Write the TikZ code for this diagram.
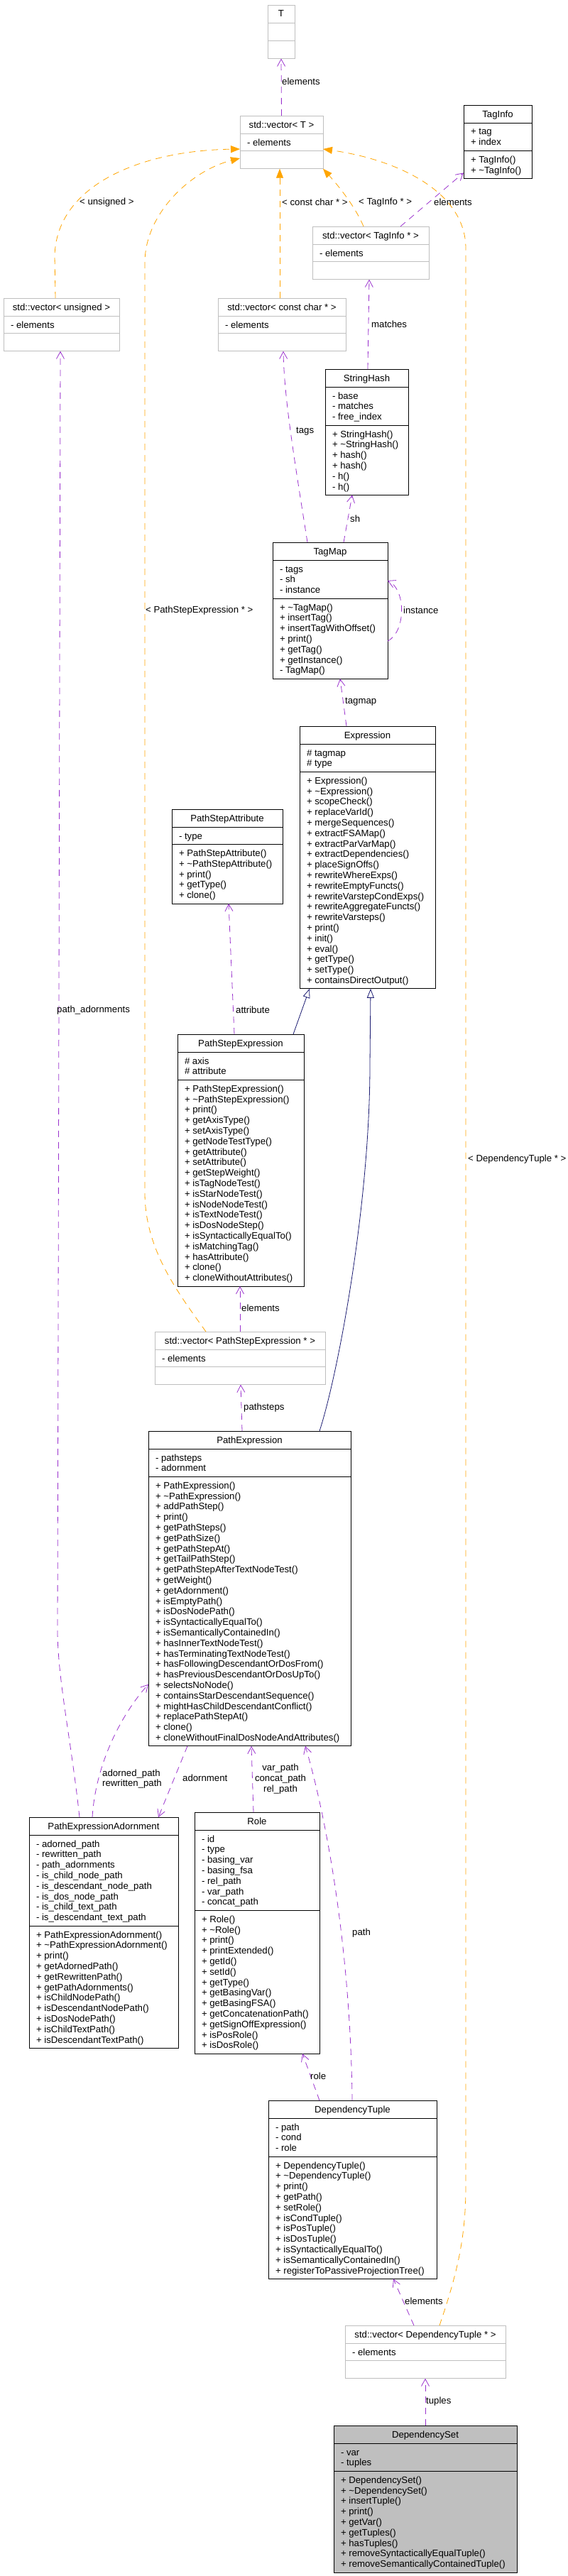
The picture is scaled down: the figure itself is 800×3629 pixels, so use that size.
\documentclass[tikz,border=0pt]{standalone}
\usepackage{fontspec}
\setmainfont{Liberation Sans}
\usetikzlibrary{arrows.meta}
\definecolor{usecol}{HTML}{9A32CD}
\definecolor{tplcol}{HTML}{FFA500}
\definecolor{inhcol}{HTML}{191970}
\definecolor{boxgray}{HTML}{BFBFBF}
\newcommand{\tld}{\textasciitilde}
\tikzset{
  blackbox/.style={draw=black, line width=0.9pt},
  graybox/.style={draw=boxgray, line width=0.9pt},
  filledbox/.style={draw=black, fill=boxgray, line width=0.9pt},
  curbox/.style={blackbox},
  clstext/.style={font=\fontsize{13.2}{14.8}\selectfont, inner sep=0pt, outer sep=0pt},
  lbl/.style={font=\fontsize{13.2}{14.8}\selectfont, inner sep=1pt, anchor=west},
  usedge/.style={draw=usecol, line width=0.8pt, dash pattern=on 9pt off 7pt, -{Straight Barb[length=10pt,width=11pt]}},
  tpledge/.style={draw=tplcol, line width=0.8pt, dash pattern=on 9pt off 7pt, -{Triangle[length=13pt,width=10pt]}},
  inhedge/.style={draw=inhcol, line width=0.8pt, -{Triangle[open,length=13pt,width=10pt,fill=white]}}
}
% #1 name #2 x #3 y #4 width #5 attr lines #6 method lines #7 title #8 attrs #9 methods
\newcommand{\umlclass}[9]{%
  \pgfmathsetmacro{\clsHa}{#5==0 ? 25.3 : #5*14.8+9.6}%
  \pgfmathsetmacro{\clsHm}{#6==0 ? 25.3 : #6*14.8+9.6}%
  \pgfmathsetmacro{\clsHt}{25+\clsHa+\clsHm}%
  \node[curbox, inner sep=0pt, outer sep=0pt, anchor=north west, minimum width=#4pt, minimum height=\clsHt pt] (#1) at (#2,#3) {};
  \draw[curbox, fill=none] ({#2},{#3+25}) -- ++(#4,0);
  \draw[curbox, fill=none] ({#2},{#3+25+\clsHa}) -- ++(#4,0);
  \node[clstext, anchor=base] (#1-title) at ({#2+#4/2},{#3+17}) {#7};
  \node[clstext, align=left, anchor=north west] (#1-attrs) at ({#2+10},{#3+25+7}) {\rule{0pt}{10pt}#8};
  \node[clstext, align=left, anchor=north west] (#1-meths) at ({#2+10},{#3+25+\clsHa+7}) {\rule{0pt}{10pt}#9};
}
\begin{document}
\begin{tikzpicture}[x=1pt,y=-1pt]
\useasboundingbox (0,0) rectangle (800,3629);

\tikzset{curbox/.style={graybox}}
\umlclass{T}{377}{7}{38}{0}{0}{T}{}{}
\umlclass{vecT}{338}{163}{117}{1}{0}{std::vector< T >}{- elements}{}
\umlclass{vecTagInfo}{440}{319}{164}{1}{0}{std::vector< TagInfo * >}{- elements}{}
\umlclass{vecUnsigned}{5}{420}{163}{1}{0}{std::vector< unsigned >}{- elements}{}
\umlclass{vecConstChar}{307}{420}{180}{1}{0}{std::vector< const char * >}{- elements}{}
\umlclass{vecPSE}{218}{1876}{240}{1}{0}{std::vector< PathStepExpression * >}{- elements}{}
\umlclass{vecDT}{486}{3276}{226}{1}{0}{std::vector< DependencyTuple * >}{- elements}{}

\tikzset{curbox/.style={blackbox}}
\umlclass{TagInfo}{653}{148}{96}{2}{2}{TagInfo}{+ tag\\+ index}{+ TagInfo()\\+ \tld TagInfo()}
\umlclass{StringHash}{458}{520}{117}{3}{6}{StringHash}{- base\\- matches\\- free\_index}{+ StringHash()\\+ \tld StringHash()\\+ hash()\\+ hash()\\- h()\\- h()}
\umlclass{TagMap}{384}{764}{162}{3}{7}{TagMap}{- tags\\- sh\\- instance}{+ \tld TagMap()\\+ insertTag()\\+ insertTagWithOffset()\\+ print()\\+ getTag()\\+ getInstance()\\- TagMap()}
\umlclass{Expression}{422}{1023}{191}{2}{20}{Expression}{\# tagmap\\\# type}{+ Expression()\\+ \tld Expression()\\+ scopeCheck()\\+ replaceVarId()\\+ mergeSequences()\\+ extractFSAMap()\\+ extractParVarMap()\\+ extractDependencies()\\+ placeSignOffs()\\+ rewriteWhereExps()\\+ rewriteEmptyFuncts()\\+ rewriteVarstepCondExps()\\+ rewriteAggregateFuncts()\\+ rewriteVarsteps()\\+ print()\\+ init()\\+ eval()\\+ getType()\\+ setType()\\+ containsDirectOutput()}
\umlclass{PSA}{242}{1140}{156}{1}{5}{PathStepAttribute}{- type}{+ PathStepAttribute()\\+ \tld PathStepAttribute()\\+ print()\\+ getType()\\+ clone()}
\umlclass{PSE}{250}{1457}{178}{2}{19}{PathStepExpression}{\# axis\\\# attribute}{+ PathStepExpression()\\+ \tld PathStepExpression()\\+ print()\\+ getAxisType()\\+ setAxisType()\\+ getNodeTestType()\\+ getAttribute()\\+ setAttribute()\\+ getStepWeight()\\+ isTagNodeTest()\\+ isStarNodeTest()\\+ isNodeNodeTest()\\+ isTextNodeTest()\\+ isDosNodeStep()\\+ isSyntacticallyEqualTo()\\+ isMatchingTag()\\+ hasAttribute()\\+ clone()\\+ cloneWithoutAttributes()}
\umlclass{PathExpression}{209}{2016}{285}{2}{25}{PathExpression}{- pathsteps\\- adornment}{+ PathExpression()\\+ \tld PathExpression()\\+ addPathStep()\\+ print()\\+ getPathSteps()\\+ getPathSize()\\+ getPathStepAt()\\+ getTailPathStep()\\+ getPathStepAfterTextNodeTest()\\+ getWeight()\\+ getAdornment()\\+ isEmptyPath()\\+ isDosNodePath()\\+ isSyntacticallyEqualTo()\\+ isSemanticallyContainedIn()\\+ hasInnerTextNodeTest()\\+ hasTerminatingTextNodeTest()\\+ hasFollowingDescendantOrDosFrom()\\+ hasPreviousDescendantOrDosUpTo()\\+ selectsNoNode()\\+ containsStarDescendantSequence()\\+ mightHasChildDescendantConflict()\\+ replacePathStepAt()\\+ clone()\\+ cloneWithoutFinalDosNodeAndAttributes()}
\umlclass{PEA}{41}{2560}{210}{8}{11}{PathExpressionAdornment}{- adorned\_path\\- rewritten\_path\\- path\_adornments\\- is\_child\_node\_path\\- is\_descendant\_node\_path\\- is\_dos\_node\_path\\- is\_child\_text\_path\\- is\_descendant\_text\_path}{+ PathExpressionAdornment()\\+ \tld PathExpressionAdornment()\\+ print()\\+ getAdornedPath()\\+ getRewrittenPath()\\+ getPathAdornments()\\+ isChildNodePath()\\+ isDescendantNodePath()\\+ isDosNodePath()\\+ isChildTextPath()\\+ isDescendantTextPath()}
\umlclass{Role}{274}{2553}{176}{7}{13}{Role}{- id\\- type\\- basing\_var\\- basing\_fsa\\- rel\_path\\- var\_path\\- concat\_path}{+ Role()\\+ \tld Role()\\+ print()\\+ printExtended()\\+ getId()\\+ setId()\\+ getType()\\+ getBasingVar()\\+ getBasingFSA()\\+ getConcatenationPath()\\+ getSignOffExpression()\\+ isPosRole()\\+ isDosRole()}
\umlclass{DT}{378}{2959}{237}{3}{11}{DependencyTuple}{- path\\- cond\\- role}{+ DependencyTuple()\\+ \tld DependencyTuple()\\+ print()\\+ getPath()\\+ setRole()\\+ isCondTuple()\\+ isPosTuple()\\+ isDosTuple()\\+ isSyntacticallyEqualTo()\\+ isSemanticallyContainedIn()\\+ registerToPassiveProjectionTree()}
\tikzset{curbox/.style={filledbox}}
\umlclass{DS}{470}{3417}{258}{2}{9}{DependencySet}{- var\\- tuples}{+ DependencySet()\\+ \tld DependencySet()\\+ insertTuple()\\+ print()\\+ getVar()\\+ getTuples()\\+ hasTuples()\\+ removeSyntacticallyEqualTuple()\\+ removeSemanticallyContainedTuple()}

% usage relations (purple)
\draw[usedge] (vecT.north) -- (T.south);
\node[lbl] (l-el1) at (396,115) {elements};
\draw[usedge] ([xshift=124pt]vecTagInfo.north west) -- ([yshift=8pt]TagInfo.south west);
\node[lbl] (l-el2) at (610,285) {elements};
\draw[usedge] ([xshift=60pt]StringHash.north west) -- ([xshift=80pt]vecTagInfo.south west);
\node[lbl] (l-matches) at (522,457) {matches};
\draw[usedge] ([xshift=49pt]TagMap.north west) .. controls (415,650) and (400,560) .. ([xshift=92pt]vecConstChar.south west);
\node[lbl] (l-tags) at (416,608) {tags};
\draw[usedge] ([xshift=100pt]TagMap.north west) -- ([xshift=38pt]StringHash.south west);
\node[lbl] (l-sh) at (492,731) {sh};
\draw[usedge] ([yshift=53pt]TagMap.south east) .. controls (572,890) and (572,830) .. ([yshift=-54pt]TagMap.north east);
\node[lbl] (l-inst) at (567,860) {instance};
\draw[usedge] ([xshift=66pt]Expression.north west) -- ([xshift=95pt]TagMap.south west);
\node[lbl] (l-tagmap) at (485,989) {tagmap};
\draw[usedge] ([xshift=80pt]PSE.north west) -- ([xshift=80pt]PSA.south west);
\node[lbl] (l-attr) at (331,1423) {attribute};
\draw[usedge] ([xshift=120pt]vecPSE.north west) -- ([xshift=88pt]PSE.south west);
\node[lbl] (l-el3) at (339,1843) {elements};
\draw[usedge] ([xshift=132pt]PathExpression.north west) -- ([xshift=121pt]vecPSE.south west);
\node[lbl] (l-psteps) at (342,1983) {pathsteps};
\draw[usedge] ([xshift=89pt]PEA.north west) .. controls (135,2480) and (175,2410) .. ([yshift=87pt]PathExpression.south west);
\node[lbl, anchor=center, align=left] (l-adorned) at (186,2506) {adorned\_path\\rewritten\_path};
\draw[usedge] ([xshift=55pt]PathExpression.south west) -- ([xshift=182pt]PEA.north west);
\node[lbl] (l-adorn) at (256,2505) {adornment};
\draw[usedge] ([xshift=71pt]PEA.north west) .. controls (100,2450) and (82,2370) .. (81,2300) -- ([xshift=80pt]vecUnsigned.south west);
\node[lbl] (l-padorn) at (79,1423) {path\_adornments};
\draw[usedge] ([xshift=83pt]Role.north west) -- ([xshift=145pt]PathExpression.south west);
\node[lbl, anchor=center, align=center] (l-paths) at (395,2506) {var\_path\\concat\_path\\rel\_path};
\draw[usedge] ([xshift=118pt]DT.north west) .. controls (494,2750) and (460,2560) .. ([xshift=221pt]PathExpression.south west);
\node[lbl] (l-path) at (495,2723) {path};
\draw[usedge] ([xshift=72pt]DT.north west) -- ([xshift=152pt]Role.south west);
\node[lbl] (l-role) at (436,2925) {role};
\draw[usedge] ([xshift=97pt]vecDT.north west) -- ([xshift=176pt]DT.south west);
\node[lbl] (l-el4) at (569,3242) {elements};
\draw[usedge] (DS.north) -- (vecDT.south);
\node[lbl] (l-tuples) at (599,3383) {tuples};

% template instances (orange)
\draw[tpledge] ([xshift=73pt]vecUnsigned.north west) -- (77,360) .. controls (80,260) and (200,212) .. ([yshift=-47pt]vecT.north west);
\node[lbl] (l-uns) at (111,285) {< unsigned >};
\draw[tpledge] ([xshift=72pt]vecPSE.north west) .. controls (250,1820) and (204,1760) .. (204,1680) -- (204,370) .. controls (204,300) and (270,240) .. ([yshift=-60pt]vecT.north west);
\node[lbl] (l-pse) at (204,860) {< PathStepExpression * >};
\draw[tpledge] ([xshift=87pt]vecConstChar.north west) -- ([xshift=56pt]vecT.south west);
\node[lbl] (l-cc) at (396,285) {< const char * >};
\draw[tpledge] ([xshift=72pt]vecTagInfo.north west) .. controls (500,290) and (475,260) .. (vecT.south east);
\node[lbl] (l-ti) at (504,285) {< TagInfo * >};
\draw[tpledge] ([xshift=133pt]vecDT.north west) .. controls (645,3200) and (656,3150) .. (656,3080) -- (656,350) .. controls (656,270) and (560,225) .. ([yshift=-47pt]vecT.north east);
\node[lbl] (l-dt) at (658,1633) {< DependencyTuple * >};

% inheritance (navy)
\draw[inhedge] ([xshift=163pt]PSE.north west) -- ([xshift=14pt]Expression.south west);
\draw[inhedge] ([xshift=241pt]PathExpression.north west) .. controls (475,1940) and (521,1700) .. (521,1500) -- ([xshift=100pt]Expression.south west);
\end{tikzpicture}
\end{document}
